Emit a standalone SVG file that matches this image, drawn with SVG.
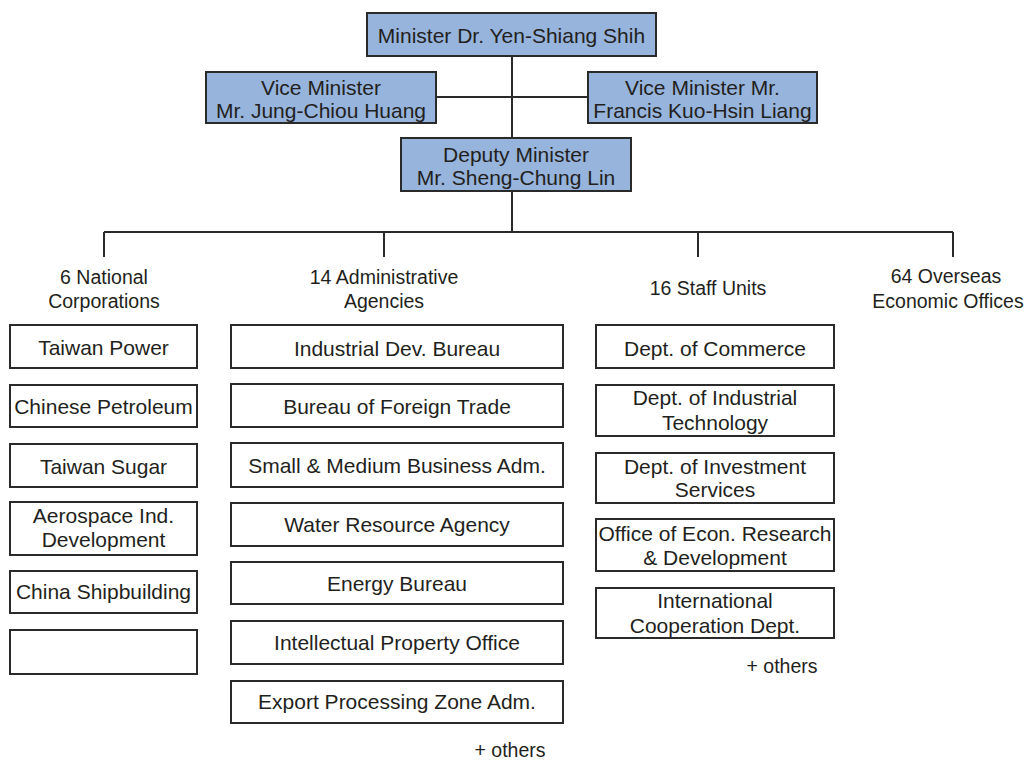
<svg xmlns="http://www.w3.org/2000/svg" width="1032" height="761" viewBox="0 0 1032 761">
<style>
text{font-family:"Liberation Sans",Arial,sans-serif;fill:#231f20;text-anchor:middle}
.t{font-size:21px}
.l{font-size:19.5px}
.hb{fill:#96b4dc;stroke:#2a2a2a;stroke-width:2}
.wb{fill:#ffffff;stroke:#2a2a2a;stroke-width:2}
.c{fill:none;stroke:#2a2a2a;stroke-width:2}
</style>
<rect width="1032" height="761" fill="#ffffff"/>
<g id="connectors">
<path class="c" d="M512,56V139M436,97H588M512,191V232M104,232H953M104,232V257M384,232V257M698,232V257M953,232V257"/>
</g>
<g id="minister"><rect class="hb" x="367" y="13" width="289" height="43"/><text class="t" x="511.5" y="43">Minister Dr. Yen-Shiang Shih</text></g>
<g id="vice1"><rect class="hb" x="206" y="72" width="230" height="51"/><text class="t" x="321" y="95">Vice Minister</text><text class="t" x="321" y="118">Mr. Jung-Chiou Huang</text></g>
<g id="vice2"><rect class="hb" x="588" y="72" width="229" height="51"/><text class="t" x="702.5" y="95">Vice Minister Mr.</text><text class="t" x="702.5" y="118">Francis Kuo-Hsin Liang</text></g>
<g id="deputy"><rect class="hb" x="401" y="138" width="230" height="53"/><text class="t" x="516" y="162">Deputy Minister</text><text class="t" x="516" y="185">Mr. Sheng-Chung Lin</text></g>

<g id="label-corp"><text class="l" x="104" y="284">6 National</text><text class="l" x="104" y="308">Corporations</text></g>
<g id="label-agencies"><text class="l" x="384" y="284">14 Administrative</text><text class="l" x="384" y="308">Agencies</text></g>
<g id="label-staff"><text class="l" x="708" y="295">16 Staff Units</text></g>
<g id="label-overseas"><text class="l" x="946" y="283">64 Overseas</text><text class="l" x="948" y="308">Economic Offices</text></g>

<g id="corp1"><rect class="wb" x="10" y="325" width="187" height="43"/><text class="t" x="103.5" y="355">Taiwan Power</text></g>
<g id="corp2"><rect class="wb" x="10" y="385" width="187" height="42"/><text class="t" x="103.5" y="414">Chinese Petroleum</text></g>
<g id="corp3"><rect class="wb" x="10" y="444" width="187" height="43"/><text class="t" x="103.5" y="474">Taiwan Sugar</text></g>
<g id="corp4"><rect class="wb" x="10" y="502" width="187" height="53"/><text class="t" x="103.5" y="523">Aerospace Ind.</text><text class="t" x="103.5" y="547">Development</text></g>
<g id="corp5"><rect class="wb" x="10" y="571" width="187" height="42"/><text class="t" x="103.5" y="599">China Shipbuilding</text></g>
<g id="corp6"><rect class="wb" x="10" y="630" width="187" height="44"/></g>

<g id="agency1"><rect class="wb" x="231" y="325" width="332" height="43"/><text class="t" x="397" y="356">Industrial Dev. Bureau</text></g>
<g id="agency2"><rect class="wb" x="231" y="384" width="332" height="43"/><text class="t" x="397" y="414">Bureau of Foreign Trade</text></g>
<g id="agency3"><rect class="wb" x="231" y="443" width="332" height="44"/><text class="t" x="397" y="473">Small &amp; Medium Business Adm.</text></g>
<g id="agency4"><rect class="wb" x="231" y="503" width="332" height="43"/><text class="t" x="397" y="532">Water Resource Agency</text></g>
<g id="agency5"><rect class="wb" x="231" y="562" width="332" height="42"/><text class="t" x="397" y="591">Energy Bureau</text></g>
<g id="agency6"><rect class="wb" x="231" y="621" width="332" height="43"/><text class="t" x="397" y="650">Intellectual Property Office</text></g>
<g id="agency7"><rect class="wb" x="231" y="681" width="332" height="42"/><text class="t" x="397" y="709">Export Processing Zone Adm.</text></g>
<g id="agency-others"><text class="l" x="510" y="757">+ others</text></g>

<g id="staff1"><rect class="wb" x="596" y="325" width="238" height="43"/><text class="t" x="715" y="356">Dept. of Commerce</text></g>
<g id="staff2"><rect class="wb" x="596" y="385" width="238" height="51"/><text class="t" x="715" y="405">Dept. of Industrial</text><text class="t" x="715" y="430">Technology</text></g>
<g id="staff3"><rect class="wb" x="596" y="453" width="238" height="50"/><text class="t" x="715" y="474">Dept. of Investment</text><text class="t" x="715" y="497">Services</text></g>
<g id="staff4"><rect class="wb" x="596" y="519" width="238" height="52"/><text class="t" x="715" y="541">Office of Econ. Research</text><text class="t" x="715" y="565">&amp; Development</text></g>
<g id="staff5"><rect class="wb" x="596" y="588" width="238" height="50"/><text class="t" x="715" y="608">International</text><text class="t" x="715" y="633">Cooperation Dept.</text></g>
<g id="staff-others"><text class="l" x="782" y="673">+ others</text></g>
</svg>
